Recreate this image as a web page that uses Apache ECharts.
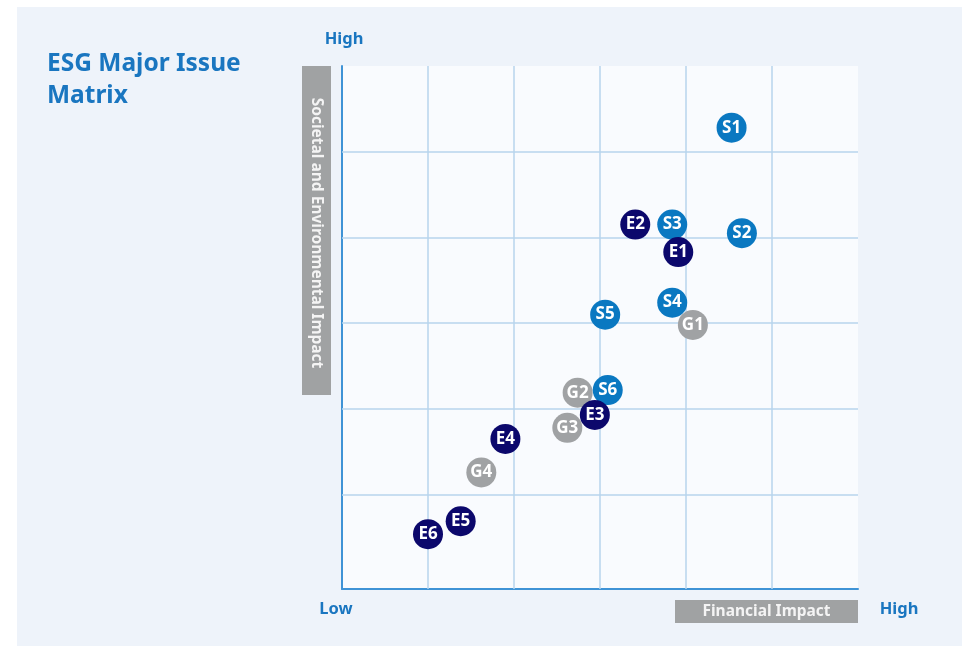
<!DOCTYPE html>
<html>
<head>
<meta charset="utf-8">
<script src="https://cdn.jsdelivr.net/npm/echarts@6/dist/echarts.min.js"></script>
<style>
  html, body { margin: 0; padding: 0; background: #ffffff; }
  #chart { width: 962px; height: 646px; }
</style>
</head>
<body>
<div id="chart"></div>
<script>
// ---- data ----
const issueIds  = ['S1', 'S2', 'S3', 'S4', 'G1', 'S5', 'G2', 'S6', 'G3', 'E1', 'E2', 'E3', 'E4', 'G4', 'E5', 'E6'];
const financial = [4.53, 4.65, 3.84, 3.84, 4.08, 3.06, 2.74, 3.09, 2.62, 3.91, 3.41, 2.94, 1.90, 1.62, 1.38, 1.00];
const societal  = [5.28, 4.05, 4.15, 3.24, 2.98, 3.10, 2.19, 2.22, 1.78, 3.83, 4.15, 1.93, 1.65, 1.26, 0.69, 0.54];
const gridXValues = [1, 2, 3, 4, 5];
const gridYValues = [1, 2, 3, 4, 5];
const titleText = 'ESG Major Issue\nMatrix';
const xAxisTitle = 'Financial Impact';
const yAxisTitle = 'Societal and Environmental Impact';
const highLabel = 'High';
const lowLabel = 'Low';

const groupColors = { E: '#0c086c', S: '#0a78c1', G: '#a0a2a4' };

const points = issueIds.map((id, i) => ({
  name: id,
  value: [financial[i], societal[i]],
  itemStyle: { color: groupColors[id[0]], opacity: 1 }
}));

const chart = echarts.init(document.getElementById('chart'), null, { renderer: 'canvas' });
const blue = '#1a76c0';
const font = '"Noto Sans", "Open Sans", sans-serif';

chart.setOption({
  backgroundColor: '#ffffff',
  animation: false,
  title: {
    text: titleText,
    left: 47, top: 48, padding: 0,
    textStyle: { color: blue, fontSize: 24.5, fontWeight: 'bold', fontFamily: font, lineHeight: 32 }
  },
  grid: {
    left: 342, top: 66, right: 104, bottom: 57,
    show: true, backgroundColor: '#f9fbfe', borderWidth: 0
  },
  xAxis: {
    type: 'value', min: 0, max: 6,
    axisLine: { show: true, onZero: false, lineStyle: { color: '#3f93d6', width: 2 } },
    axisTick: { show: false }, axisLabel: { show: false }, splitLine: { show: false }
  },
  yAxis: {
    type: 'value', min: -0.1, max: 6,
    axisLine: { show: true, onZero: false, lineStyle: { color: '#3f93d6', width: 2 } },
    axisTick: { show: false }, axisLabel: { show: false }, splitLine: { show: false }
  },
  graphic: [
    { type: 'rect', z: -10, silent: true, shape: { x: 17, y: 7, width: 962 - 17, height: 646 - 7 }, style: { fill: '#eef3fa' } },
    { type: 'rect', z: 10, shape: { x: 302, y: 66, width: 29, height: 329 }, style: { fill: '#a0a2a3' } },
    { type: 'text', z: 11, x: 316.5, y: 233, rotation: -Math.PI / 2,
      style: { text: yAxisTitle, fill: '#f4f4f4', font: 'bold 15.5px ' + font, align: 'center', verticalAlign: 'middle' } },
    { type: 'rect', z: 10, shape: { x: 675, y: 600, width: 183, height: 23 }, style: { fill: '#a0a2a3' } },
    { type: 'text', z: 11, x: 766.5, y: 612,
      style: { text: xAxisTitle, fill: '#f4f4f4', font: 'bold 15.5px ' + font, align: 'center', verticalAlign: 'middle' } },
    { type: 'text', z: 11, x: 344, y: 39,
      style: { text: highLabel, fill: blue, font: 'bold 16.5px ' + font, align: 'center', verticalAlign: 'middle' } },
    { type: 'text', z: 11, x: 336, y: 609,
      style: { text: lowLabel, fill: blue, font: 'bold 16.5px ' + font, align: 'center', verticalAlign: 'middle' } },
    { type: 'text', z: 11, x: 899, y: 609,
      style: { text: highLabel, fill: blue, font: 'bold 16.5px ' + font, align: 'center', verticalAlign: 'middle' } }
  ],
  series: [
    {
      type: 'scatter', z: 1, data: [], silent: true,
      markLine: {
        silent: true, symbol: ['none', 'none'], label: { show: false },
        lineStyle: { color: '#b7d5ed', width: 1.5, type: 'solid', opacity: 1 },
        data: gridXValues.map(v => ({ xAxis: v })).concat(gridYValues.map(v => ({ yAxis: v })))
      }
    },
    {
      type: 'scatter', z: 5,
      symbol: 'circle', symbolSize: 30,
      data: points,
      itemStyle: { opacity: 1 },
      emphasis: { disabled: true },
      label: {
        show: true, position: 'inside', formatter: p => p.name,
        color: '#ffffff', fontSize: 17, fontWeight: 'bold', fontFamily: font
      }
    }
  ]
});
</script>
</body>
</html>
